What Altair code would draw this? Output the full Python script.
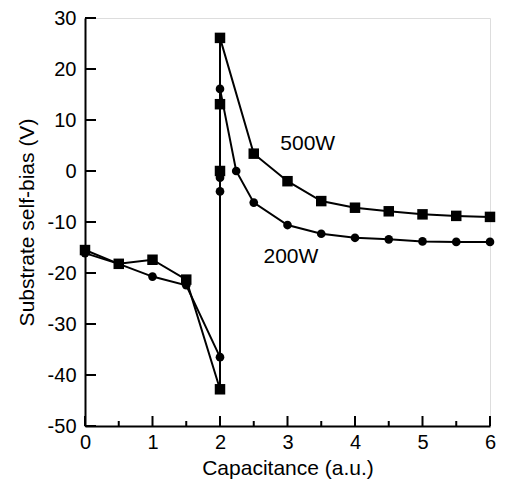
import altair as alt
import pandas as pd

# 500W series (squares)
x500 = [0, 0.5, 1, 1.5, 2, 2, 2, 2, 2.5, 3, 3.5, 4, 4.5, 5, 5.5, 6]
y500 = [-15.5, -18.2, -17.4, -21.3, -42.8, 0.0, 13.1, 26.1, 3.4, -2.0, -5.9, -7.2, -7.9, -8.5, -8.8, -9.0]
# 200W series (circles)
x200 = [0, 0.5, 1, 1.5, 2, 2, 2, 2, 2.24, 2.5, 3, 3.5, 4, 4.5, 5, 5.5, 6]
y200 = [-16.1, -18.2, -20.7, -22.4, -36.5, -4.0, -1.3, 16.1, 0.0, -6.2, -10.6, -12.3, -13.1, -13.4, -13.8, -13.9, -13.9]

x_major = [0, 1, 2, 3, 4, 5, 6]
x_minor = [0.5, 1.5, 2.5, 3.5, 4.5, 5.5]
y_major = [-50, -40, -30, -20, -10, 0, 10, 20, 30]

label_text = ["500W", "200W"]
label_x = [3.3, 3.05]
label_y = [5.2, -16.8]

FONT = "Liberation Sans"
W, H = 405, 408

rows = []
for i, (a, b) in enumerate(zip(x500, y500)):
    rows.append({"series": "500W", "x": a, "y": b, "idx": i})
for i, (a, b) in enumerate(zip(x200, y200)):
    rows.append({"series": "200W", "x": a, "y": b, "idx": i})
df = pd.DataFrame(rows)

xs = alt.Scale(domain=[0, 6], nice=False, zero=False)
ys = alt.Scale(domain=[-50, 30], nice=False, zero=False)

xaxis = alt.Axis(values=x_major, ticks=False, grid=False, labelFont=FONT, labelFontSize=20,
                 labelColor="black", labelPadding=6, titleFont=FONT, titleFontSize=21,
                 titleFontWeight="normal", titleColor="black", titlePadding=5,
                 domainColor="black", domainWidth=2, labelExpr="'' + datum.value", labelFlush=False)
yaxis = alt.Axis(values=y_major, ticks=False, grid=False, labelFont=FONT, labelFontSize=20,
                 labelColor="black", labelPadding=9, titleFont=FONT, titleFontSize=21,
                 titleFontWeight="normal", titleColor="black", titlePadding=10,
                 domainColor="black", domainWidth=2, labelExpr="'' + datum.value", labelFlush=False)

base = alt.Chart(df)
lines = base.mark_line(color="black", strokeWidth=2).encode(
    x=alt.X("x:Q", scale=xs, axis=xaxis, title="Capacitance (a.u.)"),
    y=alt.Y("y:Q", scale=ys, axis=yaxis, title="Substrate self-bias (V)"),
    detail="series:N",
    order="idx:Q",
)
points = base.mark_point(filled=True, color="black", opacity=1).encode(
    x=alt.X("x:Q", scale=xs),
    y=alt.Y("y:Q", scale=ys),
    shape=alt.Shape("series:N", scale=alt.Scale(domain=["500W", "200W"], range=["square", "circle"]), legend=None),
    size=alt.Size("series:N", scale=alt.Scale(domain=["500W", "200W"], range=[110, 75]), legend=None),
)

xmaj = alt.Chart(pd.DataFrame({"v": x_major})).mark_rule(color="black", strokeWidth=2).encode(
    x=alt.X("v:Q", scale=xs), y=alt.value(H), y2=alt.value(H - 10))
xmin = alt.Chart(pd.DataFrame({"v": x_minor})).mark_rule(color="black", strokeWidth=2).encode(
    x=alt.X("v:Q", scale=xs), y=alt.value(H), y2=alt.value(H - 5))
ymaj = alt.Chart(pd.DataFrame({"v": y_major})).mark_rule(color="black", strokeWidth=2).encode(
    y=alt.Y("v:Q", scale=ys), x=alt.value(0), x2=alt.value(11))

labels = alt.Chart(pd.DataFrame({"t": label_text, "x": label_x, "y": label_y})).mark_text(
    font=FONT, fontSize=21, color="black", align="center", baseline="middle").encode(
    x=alt.X("x:Q", scale=xs), y=alt.Y("y:Q", scale=ys), text="t:N")

chart = alt.layer(lines, points, xmaj, xmin, ymaj, labels).properties(
    width=W, height=H,
    autosize=alt.AutoSizeParams(type="none"),
    padding={"left": 77, "top": 10, "right": 10, "bottom": 58},
).configure_view(stroke="black", strokeWidth=2).configure(background="white")

chart.save("out.html", embed_options={"renderer": "svg", "actions": False})
